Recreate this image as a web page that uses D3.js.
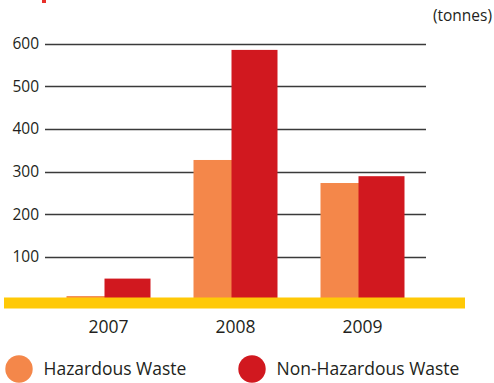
<!DOCTYPE html>
<html>
<head>
<meta charset="utf-8">
<script src="https://cdn.jsdelivr.net/npm/d3@7"></script>
<style>
  html, body { margin: 0; padding: 0; background: #fff; }
  svg { display: block; }
  text { font-family: "Open Sans", "DejaVu Sans", sans-serif; fill: #231f20; }
</style>
</head>
<body>
<svg id="chart" width="494" height="383"></svg>
<script>
const categories = ["2007", "2008", "2009"];
const seriesNames = ["Hazardous Waste", "Non-Hazardous Waste"];
const hazardous = [8, 327, 273];
const nonHazardous = [49, 585, 289];
const tickValues = [100, 200, 300, 400, 500, 600];
const unitLabel = "(tonnes)";

const colors = ["#F4874A", "#D1181F"];
const svg = d3.select("#chart");

const x = d3.scaleBand().domain(categories).range([45, 426]).padding(0);
const y = d3.scaleLinear().domain([0, 600]).range([299.5, 43.5]);

// gridlines
svg.append("g").selectAll("line").data(tickValues).join("line")
  .attr("x1", 45).attr("x2", 426)
  .attr("y1", d => Math.round(y(d)) + 0.5).attr("y2", d => Math.round(y(d)) + 0.5)
  .attr("stroke", "#3a3a3a").attr("stroke-width", 1.3);

// tick labels
svg.append("g").selectAll("text").data(tickValues).join("text")
  .attr("x", 39).attr("y", d => y(d) + 5.5)
  .attr("text-anchor", "end")
  .style("font-size", "15.5px")
  .text(d => d);

// bars
const barW = 46;
const offsets = [-42, -4];
const seriesData = [hazardous, nonHazardous];
seriesData.forEach((vals, si) => {
  svg.append("g").selectAll("rect").data(categories).join("rect")
    .attr("x", (c) => x(c) + x.bandwidth() / 2 + offsets[si])
    .attr("width", barW)
    .attr("y", (c, i) => y(vals[i]))
    .attr("height", (c, i) => y(0) - y(vals[i]))
    .attr("fill", colors[si]);
});

// yellow baseline band
svg.append("rect")
  .attr("x", 4).attr("y", 297.5).attr("width", 461).attr("height", 11)
  .attr("fill", "#FFC907");

// category labels
svg.append("g").selectAll("text").data(categories).join("text")
  .attr("x", c => x(c) + x.bandwidth() / 2)
  .attr("y", 332.5)
  .attr("text-anchor", "middle")
  .style("font-size", "17.5px")
  .text(c => c);

// unit label
svg.append("text")
  .attr("x", 492).attr("y", 20.5)
  .attr("text-anchor", "end")
  .style("font-size", "15.5px")
  .text(unitLabel);

// small red mark at top
svg.append("rect").attr("x", 42).attr("y", 0).attr("width", 4).attr("height", 3).attr("fill", "#E8302A");

// legend
const legendX = [19, 252];
seriesNames.forEach((name, i) => {
  svg.append("circle").attr("cx", legendX[i]).attr("cy", 369).attr("r", 13.7).attr("fill", colors[i]);
  svg.append("text").attr("x", legendX[i] + 24.5).attr("y", 375)
    .style("font-size", "17.5px").text(name);
});
</script>
</body>
</html>
